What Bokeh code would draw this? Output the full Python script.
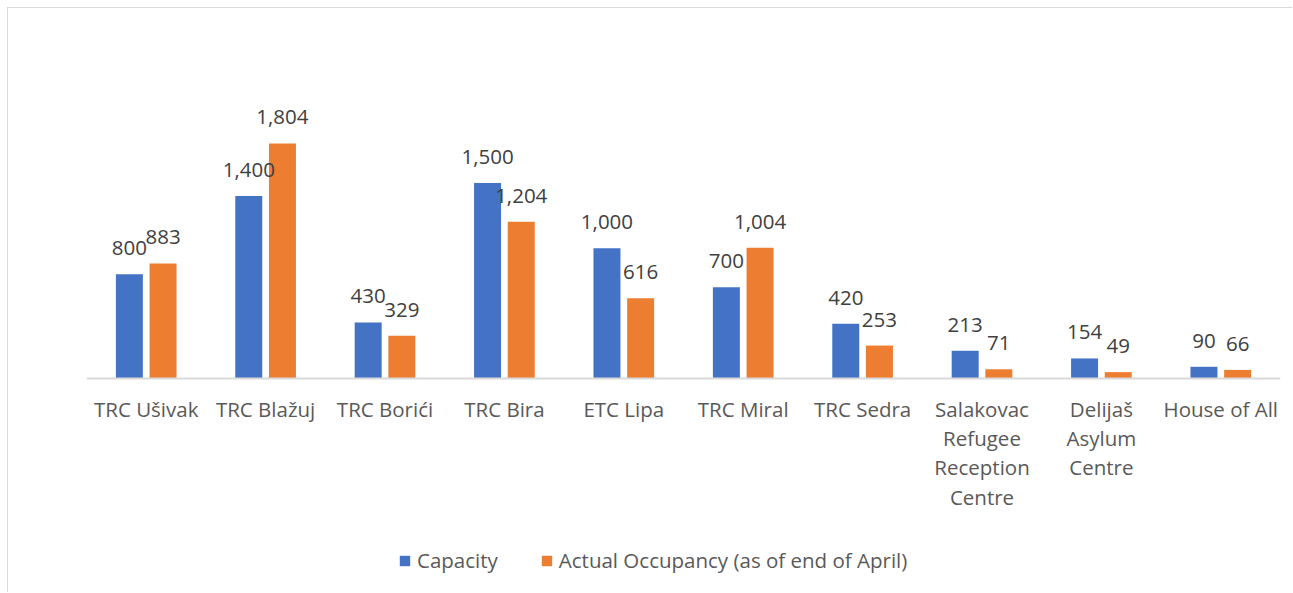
from bokeh.plotting import figure
from bokeh.models import ColumnDataSource, FactorRange, Range1d, Legend, LegendItem, Span
from bokeh.transform import dodge
from bokeh.core.properties import value
from bokeh.embed import file_html
from bokeh.resources import INLINE

categories = ["TRC Ušivak", "TRC Blažuj", "TRC Borići", "TRC Bira", "ETC Lipa",
              "TRC Miral", "TRC Sedra", "Salakovac Refugee Reception Centre",
              "Delijaš Asylum Centre", "House of All"]
tick_labels = ["TRC Ušivak", "TRC Blažuj", "TRC Borići", "TRC Bira", "ETC Lipa",
               "TRC Miral", "TRC Sedra", "Salakovac\nRefugee\nReception\nCentre",
               "Delijaš\nAsylum\nCentre", "House of All"]
capacity = [800, 1400, 430, 1500, 1000, 700, 420, 213, 154, 90]
occupancy = [883, 1804, 329, 1204, 616, 1004, 253, 71, 49, 66]
series_names = ["Capacity", "Actual Occupancy (as of end of April)"]

FONT = "Open Sans"
BLUE = "#4472C4"
ORANGE = "#ED7D31"

src = ColumnDataSource(dict(
    cat=categories,
    cap=capacity,
    occ=occupancy,
    cap_lbl=[f"{v:,}" for v in capacity],
    occ_lbl=[f"{v:,}" for v in occupancy],
))

# category labels, one row per text line
lx, lt, lo = [], [], []
for c, t in zip(categories, tick_labels):
    for j, line in enumerate(t.split("\n")):
        lx.append(c)
        lt.append(line)
        lo.append(30 + 29.4 * j)
lsrc = ColumnDataSource(dict(x=lx, y=[0] * len(lx), text=lt, off=lo))

W, H = 1285, 585
p = figure(width=W, height=H, output_backend="svg", toolbar_location=None,
           x_range=FactorRange(*categories, range_padding=0),
           y_range=Range1d(-1650, 2840),
           min_border_left=78, min_border_right=13,
           min_border_top=0, min_border_bottom=0)

p.styles = {"border-top": "1px solid #d9d9d9", "border-left": "1px solid #d9d9d9",
            "margin-left": "7px", "margin-top": "7px"}

bw = 0.226
off = 0.141
r1 = p.vbar(x=dodge("cat", -off, range=p.x_range), top="cap", width=bw, source=src,
            fill_color=BLUE, line_color=None)
r2 = p.vbar(x=dodge("cat", off, range=p.x_range), top="occ", width=bw, source=src,
            fill_color=ORANGE, line_color=None)

for col, lbl, o in (("cap", "cap_lbl", -off), ("occ", "occ_lbl", off)):
    p.text(x=dodge("cat", o, range=p.x_range), y=col, text=lbl, source=src,
           text_align="center", text_baseline="alphabetic", y_offset=-26,
           text_font=value(FONT), text_font_size="20.5px", text_color="#404040")

p.add_layout(Span(location=0, dimension="width", line_color="#d9d9d9", line_width=2))

p.text(x="x", y="y", text="text", y_offset="off", source=lsrc,
       text_align="center", text_baseline="alphabetic",
       text_font=value(FONT), text_font_size="20.5px", text_color="#595959")

p.xaxis.visible = False
p.yaxis.visible = False
p.xgrid.grid_line_color = None
p.ygrid.grid_line_color = None
p.outline_line_color = None
p.background_fill_color = "white"
p.border_fill_color = "white"

legend = Legend(items=[LegendItem(label=series_names[0], renderers=[r1]),
                       LegendItem(label=series_names[1], renderers=[r2])],
                orientation="horizontal", location=(312, 19),
                label_text_font=FONT, label_text_font_size="20.5px",
                label_text_color="#595959", glyph_width=13, glyph_height=13,
                label_standoff=6, spacing=42, padding=0, margin=0,
                border_line_color=None, background_fill_alpha=0)
p.add_layout(legend, "center")

open("out.html", "w").write(file_html(p, INLINE))
